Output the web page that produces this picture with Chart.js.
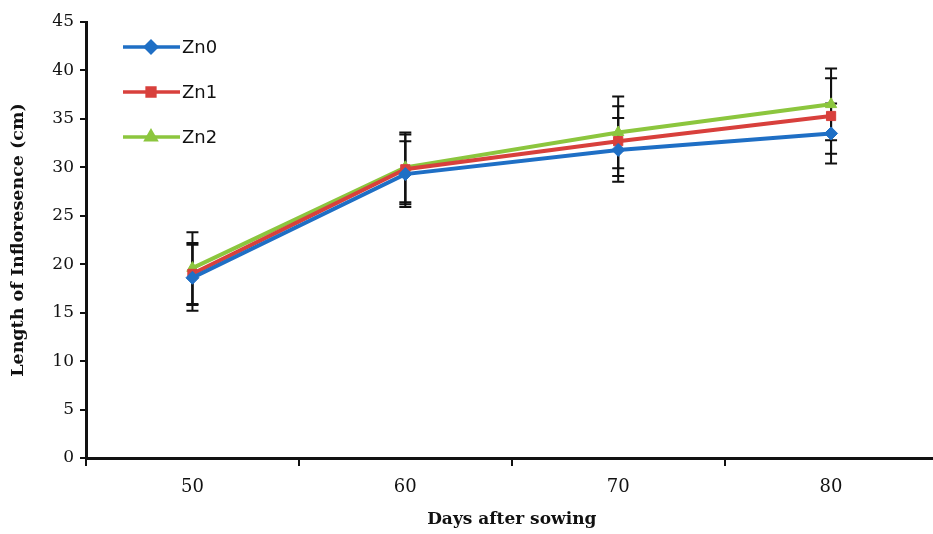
<!DOCTYPE html>
<html>
<head>
<meta charset='utf-8' />
<title>Length of Infloresence</title>
<script src="https://cdn.jsdelivr.net/npm/chart.js"></script>
<style>
body { margin:0; padding:0; overflow:hidden; background:#fff; }
#wrap { width:945px; height:534px; }
</style>
</head>
<body>
<div id="wrap">
  <canvas id="inflChart" width="945" height="534"></canvas>
</div>
<script>

// データ
const days = ["50", "60", "70", "80"];
const zn0 = [18.6, 29.3, 31.8, 33.5];
const zn1 = [19.0, 29.8, 32.7, 35.3];
const zn2 = [19.6, 30.0, 33.6, 36.5];
const zn0Err = [3.4, 3.4, 3.3, 3.1];
const zn1Err = [3.2, 3.6, 3.6, 3.9];
const zn2Err = [3.7, 3.6, 3.7, 3.7];

const serif = "'DejaVu Serif', 'Liberation Serif', serif";
const sans = "'DejaVu Sans', 'Liberation Sans', sans-serif";

// エラーバー
const errorBars = {
  id: 'errorBars',
  beforeDatasetsDraw(chart) {
    const ctx = chart.ctx;
    const y = chart.scales.y;
    ctx.save();
    ctx.strokeStyle = '#111';
    ctx.lineWidth = 2;
    chart.data.datasets.forEach((ds, i) => {
      const meta = chart.getDatasetMeta(i);
      meta.data.forEach((pt, j) => {
        const v = ds.data[j], e = ds.err[j];
        const top = y.getPixelForValue(v + e);
        const bot = y.getPixelForValue(v - e);
        ctx.beginPath();
        ctx.moveTo(pt.x, top); ctx.lineTo(pt.x, bot);
        ctx.moveTo(pt.x - 6, top); ctx.lineTo(pt.x + 6, top);
        ctx.moveTo(pt.x - 6, bot); ctx.lineTo(pt.x + 6, bot);
        ctx.stroke();
      });
    });
    ctx.restore();
  }
};

// 凡例（グラフ内左上）
const innerLegend = {
  id: 'innerLegend',
  afterDraw(chart) {
    const ctx = chart.ctx;
    ctx.save();
    chart.data.datasets.forEach((ds, i) => {
      const yy = 47 + i * 45;
      ctx.strokeStyle = ds.borderColor;
      ctx.lineWidth = 3.5;
      ctx.beginPath();
      ctx.moveTo(123, yy); ctx.lineTo(180, yy);
      ctx.stroke();
      ctx.fillStyle = ds.pointBackgroundColor;
      ctx.strokeStyle = ds.pointBackgroundColor;
      Chart.helpers.drawPoint(ctx, {
        pointStyle: ds.pointStyle, radius: 5.5, borderWidth: 1
      }, 151, yy);
      ctx.fillStyle = '#111';
      ctx.font = "18px " + sans;
      ctx.textBaseline = 'middle';
      ctx.fillText(ds.label, 182, yy + 1);
    });
    ctx.restore();
  }
};

const mkSet = (label, data, err, color, style) => ({
  label: label,
  data: data,
  err: err,
  borderColor: color,
  backgroundColor: color,
  pointBackgroundColor: color,
  pointBorderColor: color,
  borderWidth: 4,
  pointStyle: style,
  pointRadius: 6.5,
  pointBorderWidth: 1,
  tension: 0
});

const chart = new Chart(document.getElementById('inflChart'), {
  type: 'line',
  data: {
    labels: days,
    datasets: [
      mkSet('Zn0', zn0, zn0Err, '#1f6fc5', 'rectRot'),
      mkSet('Zn1', zn1, zn1Err, '#d8403c', 'rect'),
      mkSet('Zn2', zn2, zn2Err, '#8cc63e', 'triangle')
    ]
  },
  options: {
    responsive: false,
    animation: false,
    layout: { padding: { top: 22, right: 3, left: 6, bottom: 0 } },
    plugins: {
      legend: { display: false },
      tooltip: { enabled: false }
    },
    scales: {
      x: {
        type: 'category',
        offset: true,
        grid: { offset: true, drawOnChartArea: false, drawTicks: true, tickLength: 8, color: '#111', lineWidth: 2 },
        border: { color: '#111', width: 3 },
        ticks: { color: '#111', font: { family: serif, size: 18 }, padding: 11 },
        title: { display: true, text: 'Days after sowing', color: '#111', font: { family: serif, size: 17, weight: 'bold' }, padding: { top: 12 } },
        afterFit: (s) => { s.height = 76; }
      },
      y: {
        min: 0,
        max: 45,
        grid: { drawOnChartArea: false, drawTicks: true, tickLength: 6, color: '#111', lineWidth: 2 },
        border: { color: '#111', width: 3 },
        ticks: { stepSize: 5, color: '#111', font: { family: serif, size: 17 }, padding: 6 },
        title: { display: true, text: 'Length of Infloresence (cm)', color: '#111', font: { family: serif, size: 17.5, weight: 'bold' }, padding: { top: 2, bottom: 2 } },
        afterFit: (s) => { s.width = 80; }
      }
    }
  },
  plugins: [errorBars, innerLegend]
});

</script>
</body>
</html>
